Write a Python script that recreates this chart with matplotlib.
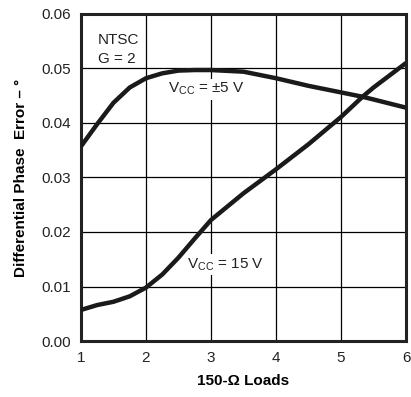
import matplotlib.pyplot as plt
import numpy as np

plt.rcParams['font.family'] = ['Liberation Sans', 'DejaVu Sans']

# values
loads = [1.0, 1.25, 1.5, 1.75, 2.0, 2.25, 2.5, 2.75, 3.0, 3.5, 4.0, 4.5, 5.0, 5.33, 5.5, 6.0]
vcc5 = [0.0357, 0.0398, 0.0437, 0.0465, 0.0482, 0.0491, 0.0496, 0.0497, 0.0497, 0.0494, 0.0482,
        0.0468, 0.0456, 0.0448, 0.0443, 0.0428]
vcc15 = [0.0057, 0.0066, 0.0072, 0.0082, 0.0098, 0.0122, 0.0153, 0.0188, 0.0222, 0.0271, 0.0315,
         0.0361, 0.0411, 0.0448, 0.0465, 0.0510]

xticks = [1, 2, 3, 4, 5, 6]
yticks = [0.00, 0.01, 0.02, 0.03, 0.04, 0.05, 0.06]

fig = plt.figure(figsize=(4.11, 3.97), dpi=100)
ax = fig.add_axes([0.197, 0.141, 0.791, 0.824])

ax.plot(loads, vcc5, color='#1a1a1a', lw=3.2, solid_capstyle='butt', zorder=3)
ax.plot(loads, vcc15, color='#1a1a1a', lw=3.2, solid_capstyle='butt', zorder=3)

ax.set_xlim(1, 6)
ax.set_ylim(0, 0.06)
ax.set_xticks(xticks)
ax.set_yticks(yticks)
ax.set_yticklabels([f'{v:.2f}' for v in yticks])
ax.tick_params(length=0, labelsize=11, pad=7, colors='#222222')
ax.grid(True, color='black', lw=0.9)
ax.set_axisbelow(True)
for s in ax.spines.values():
    s.set_linewidth(2.2)
    s.set_color('#222222')

ax.set_xlabel('150-Ω Loads', fontsize=11, fontweight='bold', labelpad=7)
ax.set_ylabel('Differential Phase  Error – °', fontsize=11, fontweight='bold', labelpad=10)

ax.text(1.26, 0.0552, 'NTSC', fontsize=11, va='center', color='#222222')
ax.text(1.26, 0.0517, 'G = 2', fontsize=11, va='center', color='#222222')

box = dict(facecolor='white', edgecolor='none', pad=1.5)
ax.text(2.34, 0.0462, r'V$_{\mathregular{CC}}$ = ±5 V', fontsize=11, va='center',
        color='#222222', bbox=box, zorder=2)
ax.text(2.63, 0.0140, r'V$_{\mathregular{CC}}$ = 15 V', fontsize=11, va='center',
        color='#222222', bbox=box, zorder=2)

fig.savefig('out.png', dpi=100)
